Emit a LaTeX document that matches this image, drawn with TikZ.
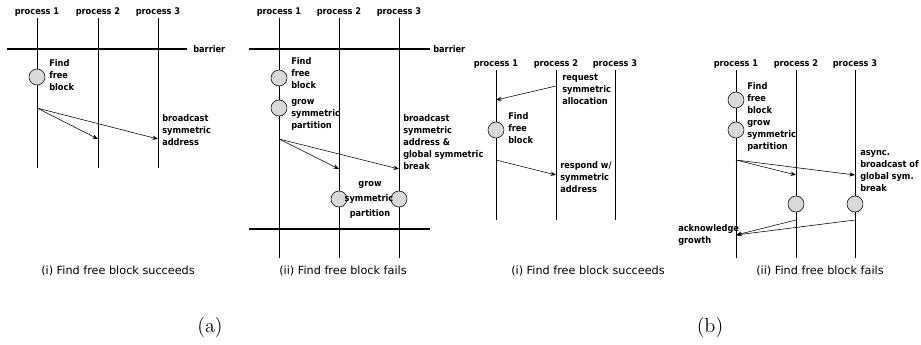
\documentclass[tikz,border=0pt]{standalone}
\usepackage{fontspec}
\newfontfamily\dvs{DejaVu Sans}
\newfontfamily\dvsc{DejaVu Sans Condensed}
\usetikzlibrary{positioning,arrows.meta}

\tikzset{
    proc/.style={line width=0.7pt},
    barrier/.style={line width=2.1pt},
    task/.style={circle,draw,thin,fill=gray!30,minimum size=0.4cm,inner sep=0pt},
    txt/.style={font=\dvsc\bfseries\fontsize{6.5}{8.6}\selectfont,align=left,inner sep=0pt,anchor=north west},
    plabel/.style={font=\dvsc\bfseries\fontsize{6.5}{8.6}\selectfont,inner sep=0pt,anchor=base},
    caption/.style={font=\dvs\fontsize{8}{10}\selectfont,inner sep=0pt,anchor=base},
    sublabel/.style={font=\Large,inner sep=0pt,anchor=base},
    msg/.style={thin,-{Stealth[length=4pt,width=3pt]}}
}

\begin{document}
\begin{tikzpicture}[x=0.025cm,y=-0.025cm]
    \useasboundingbox (0,0) rectangle (921,344);

    %(a)(i) find free block succeeds
    \foreach \i/\x in {1/37,2/98,3/158}{
        \node[plabel] (aip\i) at (\x,14) {process \i};
        \coordinate (ait\i) at (\x,18);
        \coordinate (aib\i) at (\x,168);
        \draw[proc] (ait\i) -- (aib\i);
    }
    \coordinate (aibl) at (7,49);
    \coordinate (aibr) at (187,49);
    \draw[barrier] (aibl) -- (aibr);
    \node[txt,anchor=west] (aibar) at (193,49) {barrier};
    \node[task] (aifind) at (37,77) {};
    \node[txt] (aifindt) at (49,59) {Find\\free\\block};
    \coordinate (aisend) at (37,108);
    \coordinate (airecv2) at (98,139);
    \coordinate (airecv3) at (158,139);
    \draw[msg] (aisend) -- (airecv2);
    \draw[msg] (aisend) -- (airecv3);
    \node[txt] (aibc) at (162,114) {broadcast\\symmetric\\address};
    \node[caption] (aicap) at (118,274) {(i) Find free block succeeds};

    %(a)(ii) find free block fails
    \foreach \i/\x in {1/279,2/339,3/399}{
        \node[plabel] (aiip\i) at (\x,14) {process \i};
        \coordinate (aiit\i) at (\x,18);
        \coordinate (aiib\i) at (\x,258);
        \draw[proc] (aiit\i) -- (aiib\i);
    }
    \coordinate (aiibl) at (249,49);
    \coordinate (aiibr) at (430,49);
    \draw[barrier] (aiibl) -- (aiibr);
    \node[txt,anchor=west] (aiibar) at (433,49) {barrier};
    \node[task] (aiifind) at (279,78) {};
    \node[txt] (aiifindt) at (291,57) {Find\\free\\block};
    \node[task] (aiigrow) at (279,108) {};
    \node[txt] (aiigrowt) at (291,99) {grow\\symmetric\\partition};
    \coordinate (aiisend) at (279,139);
    \coordinate (aiirecv2) at (339,169);
    \coordinate (aiirecv3) at (399,169);
    \draw[msg] (aiisend) -- (aiirecv2);
    \draw[msg] (aiisend) -- (aiirecv3);
    \node[txt] (aiibc) at (403,114) {broadcast\\symmetric\\address \&\\global symmetric\\break};
    \node[task] (aiigrow2) at (339,199) {};
    \node[task] (aiigrow3) at (399,199) {};
    \node[txt,anchor=center] (aiigw1) at (370,185) {grow};
    \node[txt,anchor=center] (aiigw2) at (369,199) {symmetric};
    \node[txt,anchor=center] (aiigw3) at (370,214) {partition};
    \coordinate (aiibl2) at (249,229);
    \coordinate (aiibr2) at (430,229);
    \draw[barrier] (aiibl2) -- (aiibr2);
    \node[caption] (aiicap) at (343,274) {(ii) Find free block fails};

    %(b)(i) find free block succeeds
    \foreach \i/\x in {1/496,2/556,3/615}{
        \node[plabel] (bip\i) at (\x,66) {process \i};
        \coordinate (bit\i) at (\x,70);
        \coordinate (bib\i) at (\x,220);
        \draw[proc] (bit\i) -- (bib\i);
    }
    \coordinate (bireq) at (556,86);
    \coordinate (bireqe) at (496,100);
    \draw[msg] (bireq) -- (bireqe);
    \node[txt] (bireqt) at (562,74) {request\\symmetric\\allocation};
    \node[task] (bifind) at (496,130) {};
    \node[txt] (bifindt) at (508,112) {Find\\free\\block};
    \coordinate (biresp) at (496,160);
    \coordinate (birespe) at (556,175);
    \draw[msg] (biresp) -- (birespe);
    \node[txt] (birespt) at (560,161) {respond w/\\symmetric\\address};
    \node[caption] (bicap) at (588,274) {(i) Find free block succeeds};

    %(b)(ii) find free block fails
    \foreach \i/\x in {1/736,2/796,3/855}{
        \node[plabel] (biip\i) at (\x,66) {process \i};
        \coordinate (biit\i) at (\x,70);
        \coordinate (biib\i) at (\x,258);
        \draw[proc] (biit\i) -- (biib\i);
    }
    \node[task] (biifind) at (736,100) {};
    \node[txt] (biifindt) at (747,82) {Find\\free\\block};
    \node[task] (biigrow) at (736,130) {};
    \node[txt] (biigrowt) at (747,120) {grow\\symmetric\\partition};
    \coordinate (biisend) at (736,160);
    \coordinate (biirecv2) at (796,175);
    \coordinate (biirecv3) at (855,175);
    \draw[msg] (biisend) -- (biirecv2);
    \draw[msg] (biisend) -- (biirecv3);
    \node[txt] (biibc) at (860,150) {async.\\broadcast of\\global sym.\\break};
    \node[task] (biigrow2) at (796,204) {};
    \node[task] (biigrow3) at (855,204) {};
    \coordinate (biiack2) at (796,220);
    \coordinate (biiack3) at (855,220);
    \coordinate (biiacke) at (736,235);
    \draw[msg] (biiack2) -- (biiacke);
    \draw[msg] (biiack3) -- (biiacke);
    \node[txt] (biiackt) at (678,224) {acknowledge\\growth};
    \node[caption] (biicap) at (820,274) {(ii) Find free block fails};

    %sub figure labels
    \node[sublabel] (suba) at (210,332) {(a)};
    \node[sublabel] (subb) at (710,332) {(b)};
\end{tikzpicture}
\end{document}
